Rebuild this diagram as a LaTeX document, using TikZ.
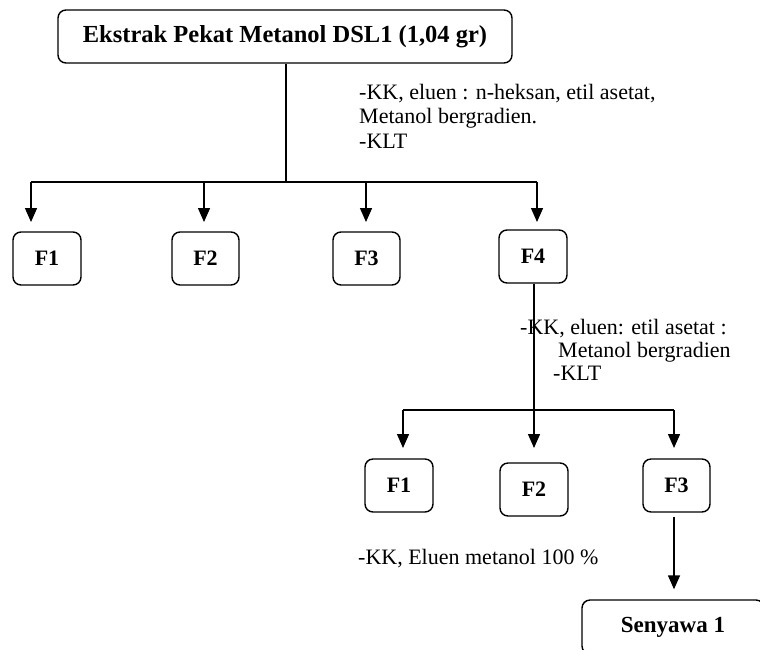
\documentclass[tikz,border=0pt]{standalone}
\usepackage{fontspec}
\setmainfont{Liberation Serif}
\usetikzlibrary{arrows.meta}
\begin{document}
\begin{tikzpicture}[x=1pt,y=-1pt,
  box/.style={draw,line width=1.4pt,rounded corners=8pt,inner sep=0pt,font=\fontsize{22}{24}\selectfont\bfseries},
  lbl/.style={inner sep=0pt,align=left,font=\fontsize{22}{24}\selectfont},
  conn/.style={line width=1.4pt},
  arr/.style={line width=1.4pt,-{Triangle[width=12pt,length=14pt]}}]
\useasboundingbox (0,0) rectangle (760,649);
\clip (0,0) rectangle (760,649);
% top
\node[box,minimum width=454pt,minimum height=53pt,font=\fontsize{24.5}{26}\selectfont\bfseries] (top) at (285,36.5) {Ekstrak Pekat Metanol DSL1 (1,04 gr)};
\coordinate (j1) at (286,182);
\node[box,minimum width=68pt,minimum height=53pt] (a1) at (47,258.5) {F1};
\node[box,minimum width=67pt,minimum height=53pt] (a2) at (205.5,258.5) {F2};
\node[box,minimum width=67pt,minimum height=53pt] (a3) at (366.5,258.5) {F3};
\node[box,minimum width=68pt,minimum height=53pt] (a4) at (533,256.5) {F4};
\coordinate (b1) at (31,182);
\coordinate (b2) at (204,182);
\coordinate (b3) at (366,182);
\coordinate (b4) at (537,182);
\draw[conn] (top.south -| j1) -- (j1);
\draw[conn] (b1) -- (b4);
\draw[arr] (b1) -- (31,222);
\draw[arr] (b2) -- (204,222);
\draw[arr] (b3) -- (366,222);
\draw[arr] (b4) -- (537,222);
\node[lbl,anchor=base west] (l1) at (359,148) {-KK, eluen : n-heksan, etil asetat,\\[0.5pt]Metanol bergradien.\\[0.5pt]-KLT};
% second level
\coordinate (j2) at (534,410);
\draw[conn] (a4.south -| j2) -- (j2);
\coordinate (c1) at (403,410);
\coordinate (c2) at (534,410);
\coordinate (c3) at (674,410);
\draw[conn] (c1) -- (c3);
\node[box,minimum width=68pt,minimum height=53pt] (d1) at (399,485.5) {F1};
\node[box,minimum width=68pt,minimum height=53pt] (d2) at (534,489.5) {F2};
\node[box,minimum width=67pt,minimum height=53pt] (d3) at (676.5,485.5) {F3};
\draw[arr] (c1) -- (403,448);
\draw[arr] (c2) -- (534,448);
\draw[arr] (c3) -- (674,448);
\node[lbl,anchor=base west] (l2) at (520,380) {-KK, eluen: etil asetat :\\[-1pt]\hspace*{38pt}Metanol bergradien\\[-1pt]\hspace*{33pt}-KLT};
\node[lbl,anchor=base west] (l3) at (358,564) {-KK, Eluen metanol 100 \%};
\node[box,minimum width=182pt,minimum height=54pt,font=\fontsize{23}{24}\selectfont\bfseries] (s1) at (673,627) {Senyawa 1};
\draw[arr,shorten <=4pt,shorten >=10pt] (d3.south -| c3) -- (s1.north -| c3);
\end{tikzpicture}
\end{document}
